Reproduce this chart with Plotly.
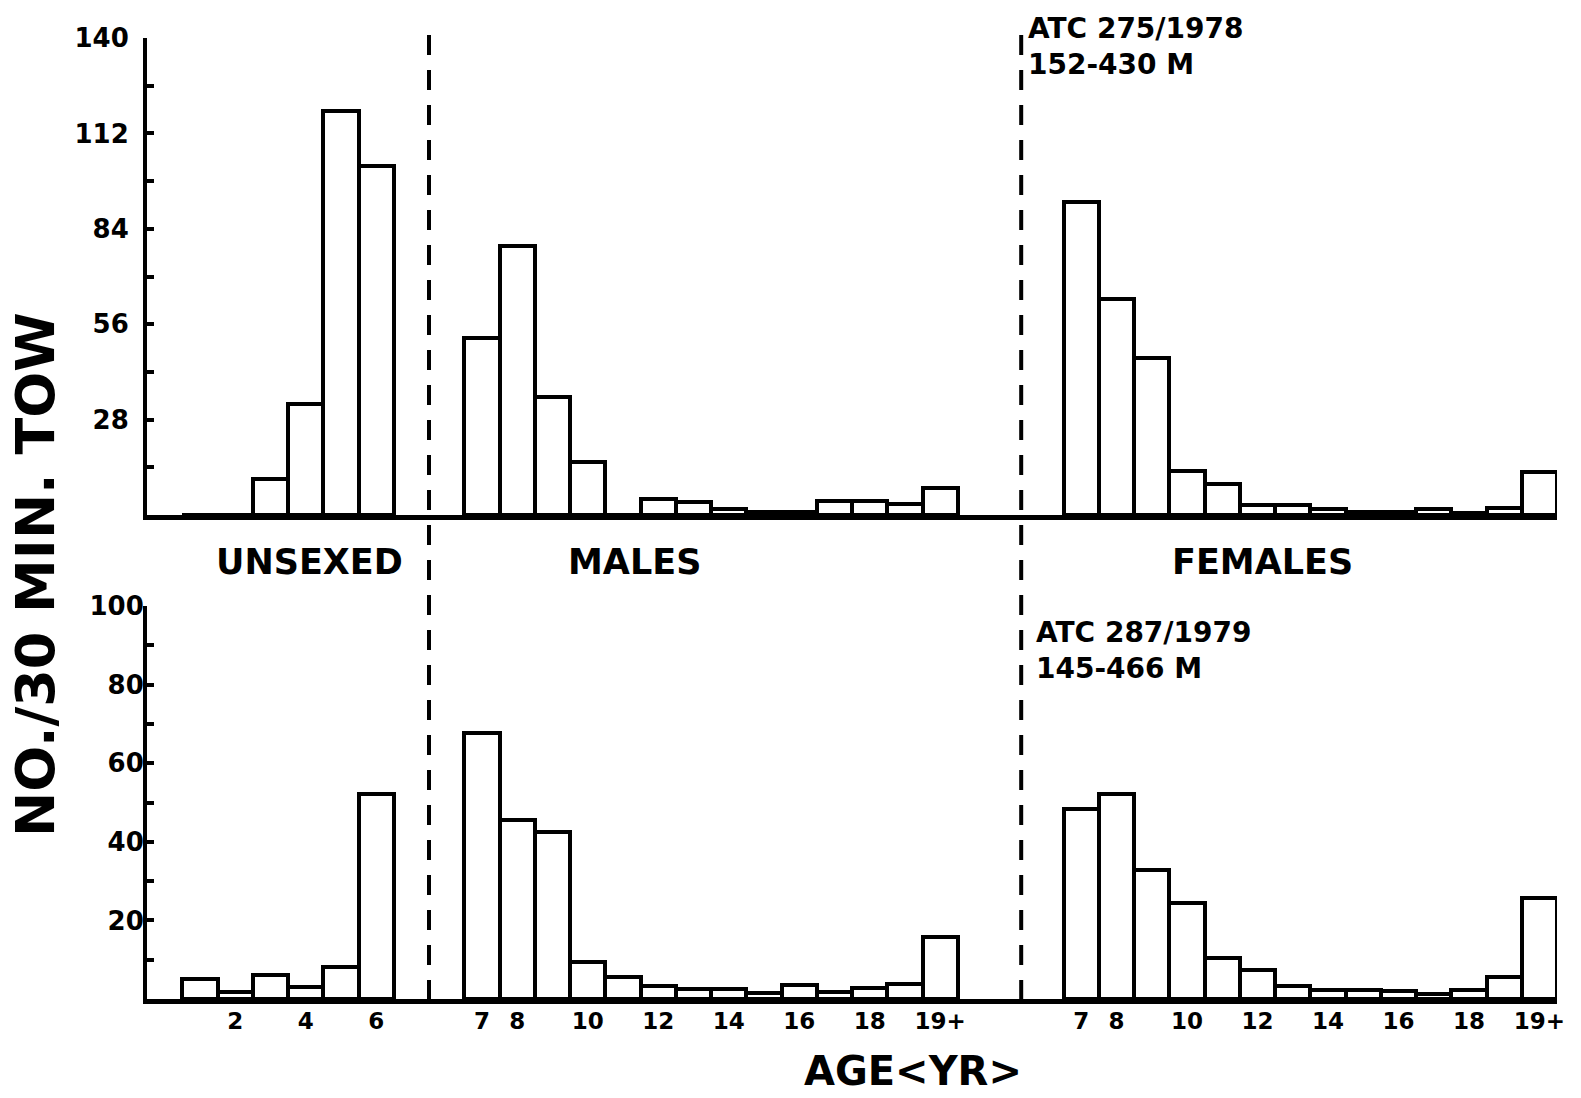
import plotly.graph_objects as go

# ---------------- data ----------------
unsexed_ages = ["1", "2", "3", "4", "5", "6"]
sexed_ages = ["7", "8", "9", "10", "11", "12", "13", "14", "15", "16", "17", "18", "19", "19+"]

# ATC 275 / 1978  (152-430 m)
top_unsexed = [0, 0, 10.5, 32.5, 118.5, 102.5]
top_males = [52, 79, 34.5, 15.5, 0, 4.6, 3.9, 1.9, 0.9, 0.9, 4.1, 4.1, 3.1, 8.0]
top_females = [92, 63.5, 46, 13, 9, 3, 3, 1.8, 0.8, 0.8, 1.8, 0.7, 2.2, 12.5]

# ATC 287 / 1979  (145-466 m)
bot_unsexed = [5.0, 1.9, 6.1, 3.1, 8.2, 52.2]
bot_males = [67.6, 45.5, 42.6, 9.5, 5.5, 3.3, 2.5, 2.5, 1.6, 3.6, 1.9, 2.7, 3.7, 15.7]
bot_females = [48.3, 52.1, 32.7, 24.5, 10.4, 7.4, 3.4, 2.2, 2.2, 2.0, 1.2, 2.2, 5.5, 25.6]

top_yticks = [28, 56, 84, 112, 140]
top_yminor = [14, 42, 70, 98, 126]
bot_yticks = [20, 40, 60, 80, 100]
bot_yminor = [10, 30, 50, 70, 90]

unsexed_tick_labels = ["2", "4", "6"]
sexed_tick_labels = ["7", "8", "10", "12", "14", "16", "18", "19+"]

group_labels = ["UNSEXED", "MALES", "FEMALES"]
top_station = ["ATC 275/1978", "152-430 M"]
bot_station = ["ATC 287/1979", "145-466 M"]
y_title = "NO./30 MIN. TOW"
x_title = "AGE&lt;YR&gt;"

# ---------------- layout helpers ----------------
W, H = 1581, 1098
def px(x):
    return x / W
def py(y):
    return 1 - y / H

# slot positions on the shared x scale (one slot per age class)
UNSEXED_START = 1
MALE_START = 9
FEMALE_START = 26
SEP_POS = [7.5, 24.3]

x_uns = [UNSEXED_START + i for i in range(len(unsexed_ages))]
x_mal = [MALE_START + i for i in range(len(sexed_ages))]
x_fem = [FEMALE_START + i for i in range(len(sexed_ages))]

FONT = "DejaVu Sans"
bar_style = dict(color="white", line=dict(color="black", width=4))

fig = go.Figure()
for xs, ys in [(x_uns, top_unsexed), (x_mal, top_males), (x_fem, top_females)]:
    fig.add_trace(go.Bar(x=xs, y=ys, width=1, marker=bar_style, xaxis="x", yaxis="y",
                         showlegend=False, hoverinfo="skip"))
for xs, ys in [(x_uns, bot_unsexed), (x_mal, bot_males), (x_fem, bot_females)]:
    fig.add_trace(go.Bar(x=xs, y=ys, width=1, marker=bar_style, xaxis="x2", yaxis="y2",
                         showlegend=False, hoverinfo="skip"))

# tick positions for the bottom axis
tickvals = []
ticktext = []
for lab in unsexed_tick_labels:
    tickvals.append(x_uns[unsexed_ages.index(lab)])
    ticktext.append(lab)
for xs in (x_mal, x_fem):
    for lab in sexed_tick_labels:
        tickvals.append(xs[sexed_ages.index(lab)])
        ticktext.append(lab)

XRANGE = [-0.5, 39.5]
xdom = [px(147), px(1557)]
common_x = dict(domain=xdom, range=XRANGE, showline=True, linecolor="black", linewidth=5,
                showgrid=False, zeroline=False, ticks="", fixedrange=True, automargin=False)
common_y = dict(showline=True, linecolor="black", linewidth=4, showgrid=False, zeroline=False,
                ticks="inside", ticklen=7, tickwidth=4, tickcolor="black", automargin=False,
                fixedrange=True,
                tickfont=dict(family=FONT, size=26, color="black", weight="bold"))

fig.update_layout(
    template=None,
    width=W, height=H,
    margin=dict(l=0, r=0, t=0, b=0, pad=0, autoexpand=False),
    paper_bgcolor="white", plot_bgcolor="white",
    bargap=0,
    xaxis=dict(**common_x, anchor="y", showticklabels=False),
    xaxis2=dict(**common_x, anchor="y2", tickvals=tickvals, ticktext=ticktext,
                ticklabelstandoff=-3,
                tickfont=dict(family=FONT, size=23, color="black", weight="bold")),
    yaxis=dict(**common_y, domain=[py(515), py(38)], range=[0, 140], anchor="x",
               tickvals=top_yticks, ticktext=[str(v) for v in top_yticks],
               ticklabelstandoff=9,
               minor=dict(tickvals=top_yminor, ticks="inside", ticklen=7, tickwidth=4,
                          tickcolor="black")),
    yaxis2=dict(**common_y, domain=[py(999), py(606)], range=[0, 100], anchor="x2",
                tickvals=bot_yticks, ticktext=[str(v) for v in bot_yticks],
                ticklabelstandoff=-6,
                minor=dict(tickvals=bot_yminor, ticks="inside", ticklen=7, tickwidth=4,
                           tickcolor="black")),
)

# dashed separators between unsexed / males / females
for sx in SEP_POS:
    fig.add_shape(type="line", xref="x", yref="paper", x0=sx, x1=sx, y0=py(1000), y1=py(30),
                  line=dict(color="black", width=4, dash="20px,15px"))

ann_font = dict(family=FONT, size=35, color="black", weight="bold")
group_x = [309, 634, 1262]
for lab, gx in zip(group_labels, group_x):
    fig.add_annotation(text=lab, x=px(gx), y=py(562), xref="paper", yref="paper",
                       showarrow=False, xanchor="center", yanchor="middle", font=ann_font)

st_font = dict(family=FONT, size=28, color="black", weight="bold")
for lines, y0, x0 in [(top_station, 46, 1026), (bot_station, 650, 1034)]:
    fig.add_annotation(text="<br>".join(lines), x=px(x0), y=py(y0), xref="paper",
                       yref="paper", showarrow=False, xanchor="left", yanchor="middle",
                       align="left", font=st_font)

fig.add_annotation(text=y_title, x=px(35), y=py(575), xref="paper", yref="paper",
                   showarrow=False, textangle=-90, xanchor="center", yanchor="middle",
                   font=dict(family=FONT, size=54, color="black", weight="bold"))
fig.add_annotation(text=x_title, x=px(913), y=py(1071), xref="paper", yref="paper",
                   showarrow=False, xanchor="center", yanchor="middle",
                   font=dict(family=FONT, size=40, color="black", weight="bold"))

fig.write_html("out.html")
